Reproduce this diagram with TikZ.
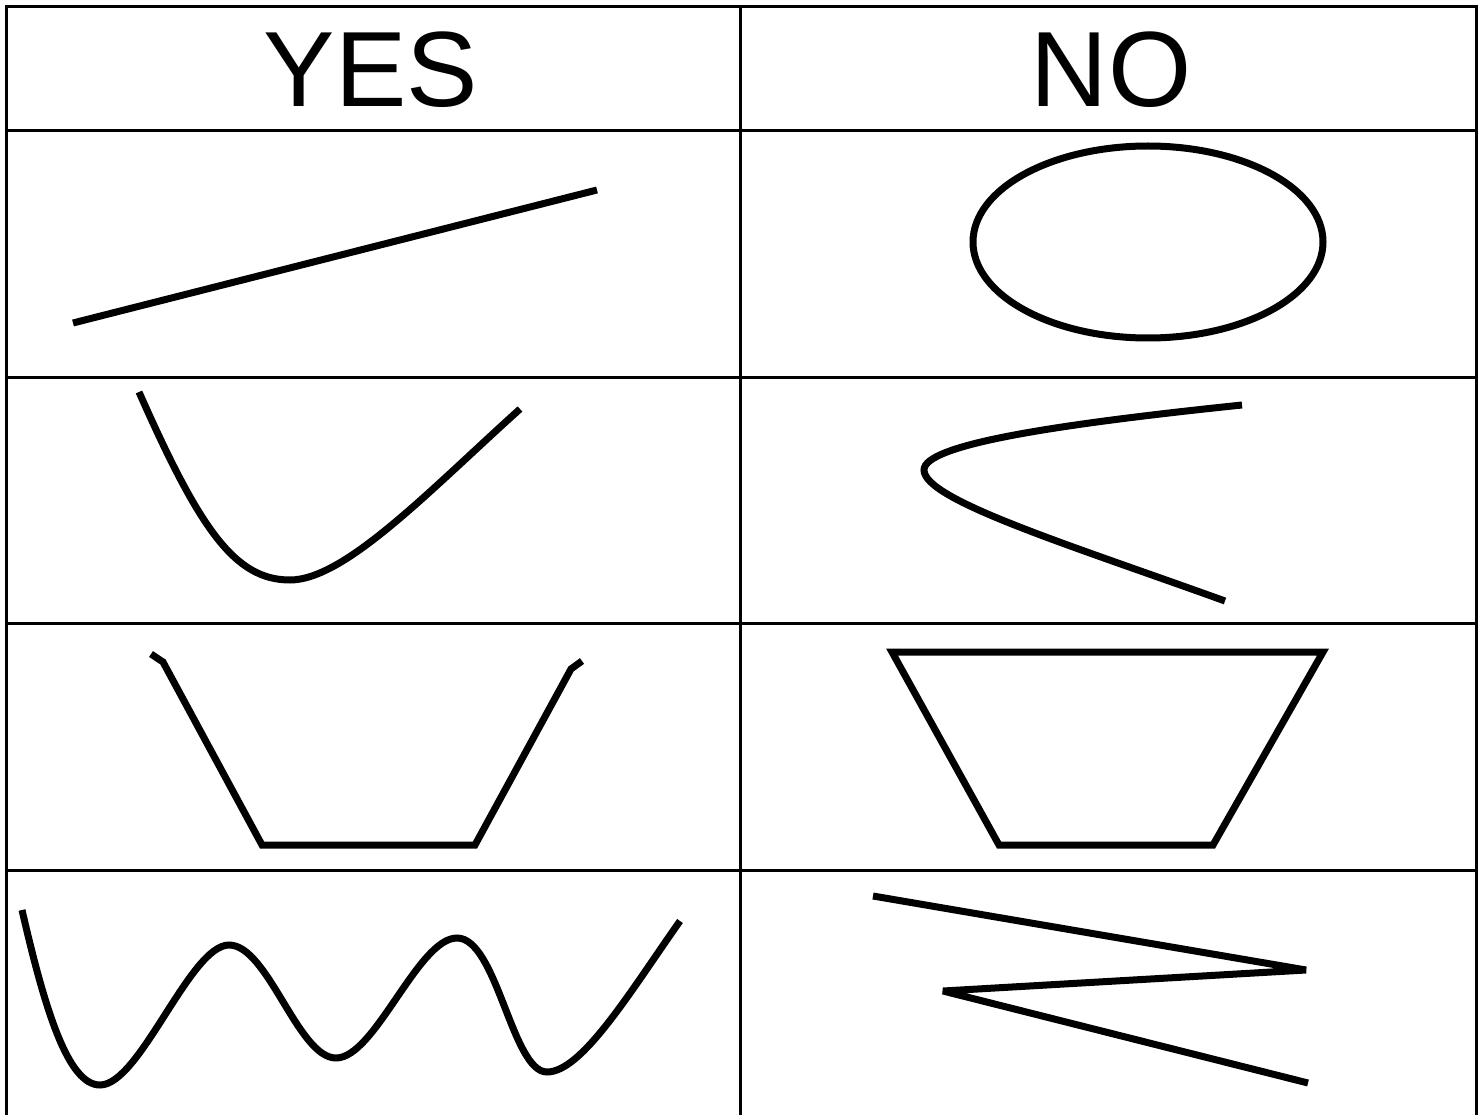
\documentclass[tikz,border=0pt]{standalone}
\usepackage{fontspec}
\setmainfont{Liberation Sans}
\begin{document}
\begin{tikzpicture}[x=1pt,y=-1pt,
  grid/.style={line width=3pt,line cap=rect},
  curve/.style={line width=7pt},
  head/.style={anchor=base,inner sep=0pt,font=\fontsize{107}{110}\selectfont}]
\useasboundingbox (0,0) rectangle (1481,1115);
\begin{scope}
\clip (0,0) rectangle (1481,1115);
% table
\draw[grid] (6,1120) -- (6,7) -- (1476,7) -- (1476,1120);
\draw[grid] (740,7) -- (740,1120);
\foreach \yy in {131,377,623,870} \draw[grid] (6,\yy) -- (1476,\yy);
% headings
\node[head] (yes) at (371,107) {YES};
\node[head] (no) at (1111,107) {NO};
% row 1
\draw[curve] (73,323) -- (597,190);
\draw[curve] (1148,242) ellipse [x radius=175, y radius=96];
% row 2
\draw[curve] (139,392) .. controls (200,530) and (235,580) .. (290,580)
   .. controls (345,580) and (430,490) .. (520,409);
\draw[curve] (1242,405) .. controls (1050,425) and (924,445) .. (924,470)
   .. controls (924,500) and (1070,545) .. (1225,601);
% row 3
\draw[curve,line join=miter] (151,654) -- (163,662) -- (262,845) -- (475,845) -- (571,669) -- (582,661);
\draw[curve,line join=miter] (892,652) -- (1323,652) -- (1213,845) -- (999,845) -- cycle;
% row 4
\draw[curve] (22,910) .. controls (45,1010) and (68,1085) .. (100,1085)
   .. controls (140,1085) and (190,945) .. (229,945)
   .. controls (268,945) and (298,1058) .. (336,1058)
   .. controls (375,1058) and (418,938) .. (457,938)
   .. controls (497,938) and (512,1072) .. (547,1072)
   .. controls (582,1072) and (630,992) .. (680,921);
\draw[curve,line join=bevel] (873,896) -- (1306,970) -- (943,991) -- (1308,1083);
\end{scope}
\end{tikzpicture}
\end{document}
